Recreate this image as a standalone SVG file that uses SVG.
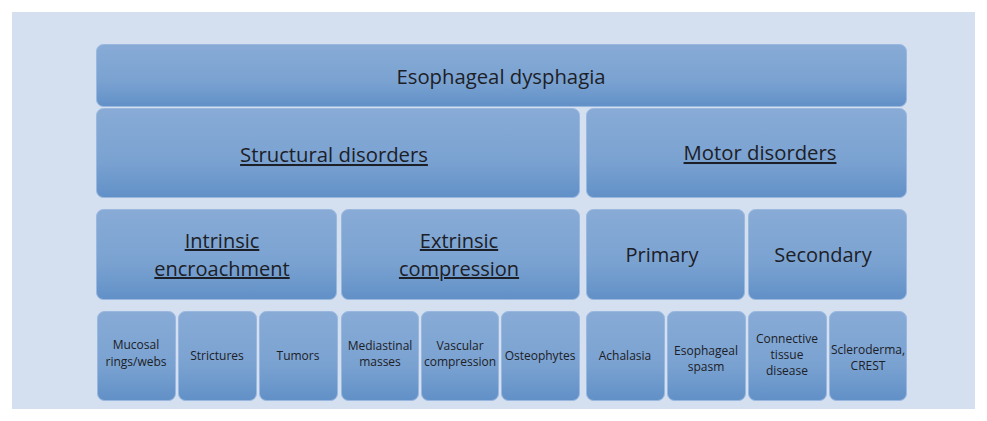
<svg xmlns="http://www.w3.org/2000/svg" width="987" height="421" viewBox="0 0 987 421">
<defs>
<linearGradient id="g" x1="0" y1="0" x2="0" y2="1">
<stop offset="0" stop-color="#88abd6"/>
<stop offset="0.6" stop-color="#7aa2d1"/>
<stop offset="1" stop-color="#6190c7"/>
</linearGradient>
</defs>
<style>
.b{fill:url(#g);stroke:#9ab8df;stroke-width:1}
text{font-family:"Open Sans","Liberation Sans",sans-serif;fill:#1c2026;text-anchor:middle}
.l{font-size:20.3px}
.m{font-size:20px}
.s{font-size:12px}
.u{text-decoration:underline}
</style>
<rect x="0" y="0" width="987" height="421" fill="#ffffff"/>
<rect x="12" y="12" width="963" height="397" fill="#d4dff0"/>
<g id="root"><rect class="b" x="96.5" y="44.5" width="810" height="62" rx="7"/><text class="l" x="501" y="84">Esophageal dysphagia</text></g>
<g id="structural"><rect class="b" x="96.5" y="108.5" width="483" height="89" rx="7"/><text class="l u" x="334" y="162">Structural disorders</text></g>
<g id="motor"><rect class="b" x="586.5" y="108.5" width="320" height="89" rx="7"/><text class="l u" x="760" y="160">Motor disorders</text></g>
<g id="intrinsic"><rect class="b" x="96.5" y="209.5" width="240" height="90" rx="7"/><text class="m u" x="222" y="248">Intrinsic</text><text class="m u" x="222" y="276">encroachment</text></g>
<g id="extrinsic"><rect class="b" x="341.5" y="209.5" width="238" height="90" rx="7"/><text class="m u" x="459" y="248">Extrinsic</text><text class="m u" x="459" y="276">compression</text></g>
<g id="primary"><rect class="b" x="586.5" y="209.5" width="158" height="90" rx="7"/><text class="m" x="662" y="262">Primary</text></g>
<g id="secondary"><rect class="b" x="748.5" y="209.5" width="158" height="90" rx="7"/><text class="m" x="823" y="262">Secondary</text></g>
<g id="mucosal"><rect class="b" x="97.5" y="311.5" width="78" height="89" rx="7"/><text class="s" x="136" y="349">Mucosal</text><text class="s" x="136" y="366">rings/webs</text></g>
<g id="strictures"><rect class="b" x="178.5" y="311.5" width="78" height="89" rx="7"/><text class="s" x="217" y="360">Strictures</text></g>
<g id="tumors"><rect class="b" x="259.5" y="311.5" width="78" height="89" rx="7"/><text class="s" x="298" y="360">Tumors</text></g>
<g id="mediastinal"><rect class="b" x="341.5" y="311.5" width="77" height="89" rx="7"/><text class="s" x="380" y="350">Mediastinal</text><text class="s" x="380" y="366">masses</text></g>
<g id="vascular"><rect class="b" x="421.5" y="311.5" width="77" height="89" rx="7"/><text class="s" x="460" y="350">Vascular</text><text class="s" x="460" y="366">compression</text></g>
<g id="osteophytes"><rect class="b" x="501.5" y="311.5" width="78" height="89" rx="7"/><text class="s" x="540" y="360">Osteophytes</text></g>
<g id="achalasia"><rect class="b" x="586.5" y="311.5" width="78" height="89" rx="7"/><text class="s" x="625" y="360">Achalasia</text></g>
<g id="spasm"><rect class="b" x="667.5" y="311.5" width="78" height="89" rx="7"/><text class="s" x="706" y="355">Esophageal</text><text class="s" x="706" y="371">spasm</text></g>
<g id="connective"><rect class="b" x="748.5" y="311.5" width="78" height="89" rx="7"/><text class="s" x="787" y="343">Connective</text><text class="s" x="787" y="359">tissue</text><text class="s" x="787" y="375">disease</text></g>
<g id="scleroderma"><rect class="b" x="829.5" y="311.5" width="77" height="89" rx="7"/><text class="s" x="868" y="354">Scleroderma,</text><text class="s" x="868" y="370">CREST</text></g>
<g id="connectors"></g>
</svg>
